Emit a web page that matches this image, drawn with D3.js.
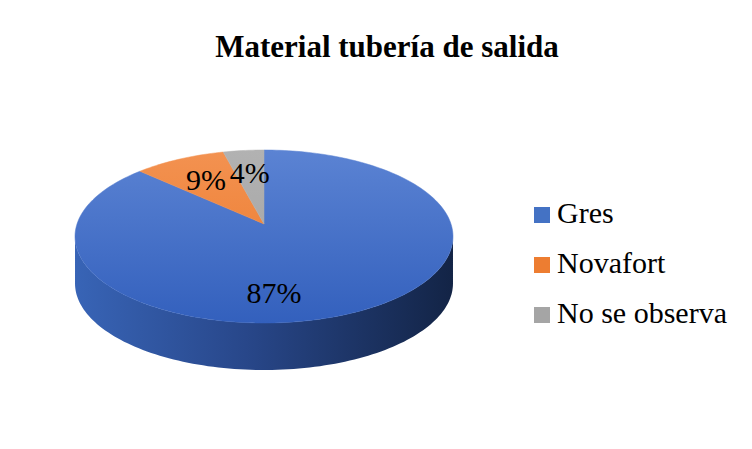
<!doctype html>
<html>
<head>
<meta charset="utf-8">
<script src="https://cdnjs.cloudflare.com/ajax/libs/d3/7.8.5/d3.min.js"></script>
</head>
<body style="margin:0">
<svg id="chart" width="752" height="449"></svg>
<script>
  var categories = ["Gres", "Novafort", "No se observa"];
  var values = [87, 9, 4];
  var labels = ["87%", "9%", "4%"];

  var topColors = [["#5b83d3", "#3360bd"], ["#f39251", "#eb7727"], ["#b2b2b2", "#a0a0a0"]];
  var sideColors = [["#3864b6", "#28478a", "#132446"], ["#c0622a", "#a4511f", "#7a3a14"], ["#8a8a8a", "#6e6e6e", "#555"]];
  var swatch = ["#4472c4", "#ed7d31", "#a5a5a5"];

  // perspective disc: apex (centre of the pie) and projection factors
  var cx = 264, cy = 224, A = 187, B = 84.7, k = 0.1445, depth = 47;

  var svg = d3.select("#chart");

  // legend first (regular serif text)
  var ly = d3.scalePoint().domain(categories).range([223, 323]);
  categories.forEach(function(c, i) {
    svg.append("text").attr("x", 557).attr("y", ly(c))
      .style("font-family", "Liberation Serif").style("font-size", "30px")
      .text(c);
    svg.append("rect").attr("x", 534).attr("y", ly(c) - 16).attr("width", 16).attr("height", 16)
      .attr("fill", swatch[i]);
  });

  var defs = svg.append("defs");
  topColors.forEach(function(c, i) {
    var g = defs.append("linearGradient").attr("id", "top" + i)
      .attr("gradientUnits", "userSpaceOnUse")
      .attr("x1", 0).attr("y1", 150).attr("x2", 0).attr("y2", 323);
    g.append("stop").attr("offset", "0%").attr("stop-color", c[0]);
    g.append("stop").attr("offset", "100%").attr("stop-color", c[1]);
  });
  sideColors.forEach(function(c, i) {
    var g = defs.append("linearGradient").attr("id", "side" + i)
      .attr("gradientUnits", "userSpaceOnUse")
      .attr("x1", 76).attr("y1", 0).attr("x2", 452).attr("y2", 0);
    g.append("stop").attr("offset", "0%").attr("stop-color", c[0]);
    g.append("stop").attr("offset", "45%").attr("stop-color", c[1]);
    g.append("stop").attr("offset", "100%").attr("stop-color", c[2]);
  });

  var pie = d3.pie().sort(null).value(function(d) { return d; });
  var arcs = pie(values);

  // angle (d3 pie convention) and radius -> screen point
  function proj(a, r) {
    var u = r * Math.sin(a), v = -r * Math.cos(a), w = 1 - k * v;
    return [cx + A * u / w, cy + B * v / w];
  }
  function steps(a0, a1) {
    var n = Math.max(2, Math.ceil((a1 - a0) * 40));
    return d3.range(0, n + 1).map(function(j) { return a0 + (a1 - a0) * j / n; });
  }
  var line = d3.line();

  // side wall, visible between the two silhouette points
  var sL = Math.acos(-k), sR = 2 * Math.PI - Math.acos(-k);
  arcs.forEach(function(d, i) {
    var a0 = Math.max(d.startAngle, sL), a1 = Math.min(d.endAngle, sR);
    if (a0 >= a1) return;
    var ts = steps(a0, a1);
    var pts = ts.map(function(t) { return proj(t, 1); })
      .concat(ts.slice().reverse().map(function(t) { var p = proj(t, 1); return [p[0], p[1] + depth]; }));
    svg.append("path").attr("d", line(pts) + "Z").attr("fill", "url(#side" + i + ")");
  });

  // top face
  svg.append("g").selectAll("path").data(arcs).join("path")
    .attr("d", function(d) {
      return line([proj(0, 0)].concat(steps(d.startAngle, d.endAngle).map(function(t) { return proj(t, 1); }))) + "Z";
    })
    .attr("fill", function(d, i) { return "url(#top" + i + ")"; })
    .attr("stroke", function(d, i) { return "url(#top" + i + ")"; })
    .attr("stroke-width", 0.5);

  // data labels
  arcs.forEach(function(d, i) {
    var big = d.endAngle - d.startAngle > Math.PI;
    var p = big ? proj(Math.PI, 0.73) : proj((d.startAngle + d.endAngle) / 2, 0.66);
    svg.append("text")
      .attr("x", p[0] + (big ? 10 : 0)).attr("y", p[1] + 10)
      .attr("text-anchor", "middle")
      .style("font-family", "Liberation Serif").style("font-size", "30px")
      .text(labels[i]);
  });

  // title last
  svg.append("text")
    .attr("x", 387).attr("y", 57).attr("text-anchor", "middle")
    .style("font-family", "Liberation Serif").style("font-size", "31px").style("font-weight", "bold")
    .text("Material tubería de salida");
</script>
</body>
</html>
